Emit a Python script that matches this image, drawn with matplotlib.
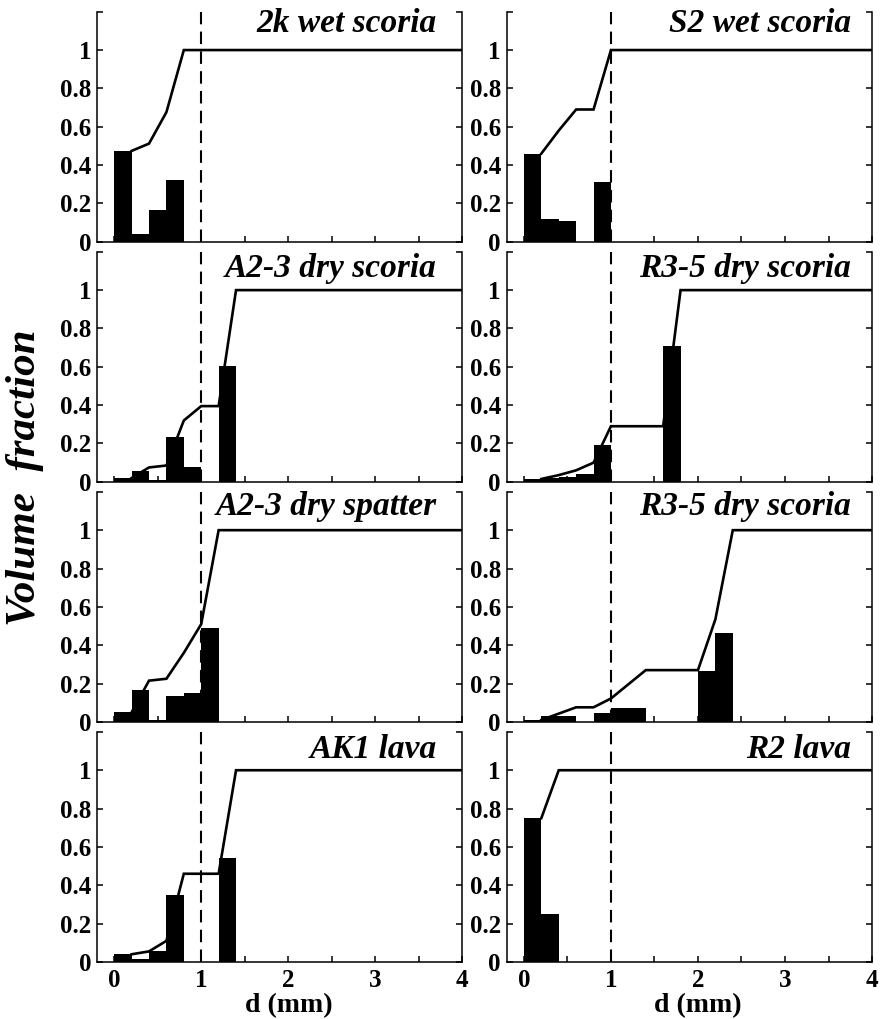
"""
Grain size distributions of the eight samples: volume fraction per 0.2 mm
bin (black bars) with the cumulative curve, and the 1 mm cut-off marked.
"""

import matplotlib
matplotlib.use("Agg")
import matplotlib.pyplot as plt
import numpy as np

plt.rcParams['font.family'] = ['Liberation Serif', 'DejaVu Serif']
plt.rcParams['font.weight'] = 'bold'

bin_width = 0.2  # mm

# Volume fraction in each 0.2 mm bin, starting at d = 0
frac_2k_wet = [0.474, 0.038, 0.164, 0.324]
frac_s2_wet = [0.46, 0.12, 0.11, 0.0, 0.31]
frac_a23_scoria = [0.02, 0.055, 0.01, 0.235, 0.075, 0.0, 0.605]
frac_r35_scoria = [0.015, 0.02, 0.025, 0.04, 0.19, 0.0, 0.0, 0.0, 0.71]
frac_a23_spatter = [0.05, 0.165, 0.01, 0.135, 0.15, 0.49]
frac_r35_scoria_b = [0.01, 0.033, 0.033, 0.0, 0.046, 0.074, 0.074,
                     0.0, 0.0, 0.0, 0.265, 0.465]
frac_ak1_lava = [0.04, 0.015, 0.055, 0.35, 0.0, 0.0, 0.54]
frac_r2_lava = [0.75, 0.25]

sample_names = ['2k wet scoria', 'S2 wet scoria',
                'A2-3 dry scoria', 'R3-5 dry scoria',
                'A2-3 dry spatter', 'R3-5 dry scoria',
                'AK1 lava', 'R2 lava']
sample_fracs = [frac_2k_wet, frac_s2_wet,
                frac_a23_scoria, frac_r35_scoria,
                frac_a23_spatter, frac_r35_scoria_b,
                frac_ak1_lava, frac_r2_lava]

y_ticks = [0, 0.2, 0.4, 0.6, 0.8, 1.0, 1.2]
y_tick_labels = ['0', '0.2', '0.4', '0.6', '0.8', '1', '']
x_ticks = [0, 1, 2, 3, 4]
d_cutoff = 1.0
d_max = 4.0

# where the sample name sits: right edge per column, baseline per row
name_x = [0.93, 0.943]
name_y = [0.912, 0.89, 0.90, 0.885]

fig, axes = plt.subplots(4, 2, figsize=(8.88, 10.19), dpi=100)
fig.subplots_adjust(left=0.109, right=0.982, bottom=0.056, top=0.9885,
                    hspace=0.0435, wspace=0.121)

for i, ax in enumerate(axes.flat):
    frac = np.array(sample_fracs[i])
    left = np.arange(len(frac)) * bin_width
    right_edges = left + bin_width
    cumulative = np.cumsum(frac)

    # cumulative curve at the upper bin edges, held flat out to 4 mm
    x_line = np.append(right_edges, d_max)
    y_line = np.append(cumulative, cumulative[-1])
    ax.plot(x_line, y_line, color='black', lw=1.9, zorder=2,
            solid_joinstyle='miter')

    ax.bar(left, frac, width=bin_width, align='edge', color='black',
           edgecolor='none', zorder=3)

    ax.axvline(d_cutoff, color='black', lw=1.5, dashes=(6, 3.5), zorder=4)

    ax.set_xlim(-0.2, d_max)
    ax.set_ylim(0, 1.2)

    ax.spines['top'].set_visible(False)
    for side in ['left', 'right', 'bottom']:
        ax.spines[side].set_linewidth(1.1)

    ax.set_yticks(y_ticks)
    ax.set_yticklabels(y_tick_labels)
    ax.set_xticks(x_ticks)
    ax.set_xticks(np.arange(0.5, d_max, 1.0), minor=True)
    ax.tick_params(axis='y', which='both', direction='in', left=True,
                   right=True, length=4, width=1.1, labelsize=18, pad=4)
    ax.tick_params(axis='x', which='both', direction='in', top=False,
                   length=4, width=1.1, labelsize=18, pad=5)

    row, col = divmod(i, 2)
    if row == 3:
        ax.set_xlabel('d (mm)', fontsize=20, fontweight='bold', labelpad=1,
                      x=0.524)
    else:
        ax.tick_params(axis='x', labelbottom=False)

    ax.text(name_x[col], name_y[row], sample_names[i], transform=ax.transAxes,
            ha='right', va='baseline', fontsize=24, fontweight='bold',
            style='italic')

fig.text(0.028, 0.531, 'Volume  fraction', rotation=90, ha='center',
         va='center', fontsize=31, fontweight='bold', style='italic')

fig.savefig('out.png', dpi=100)
